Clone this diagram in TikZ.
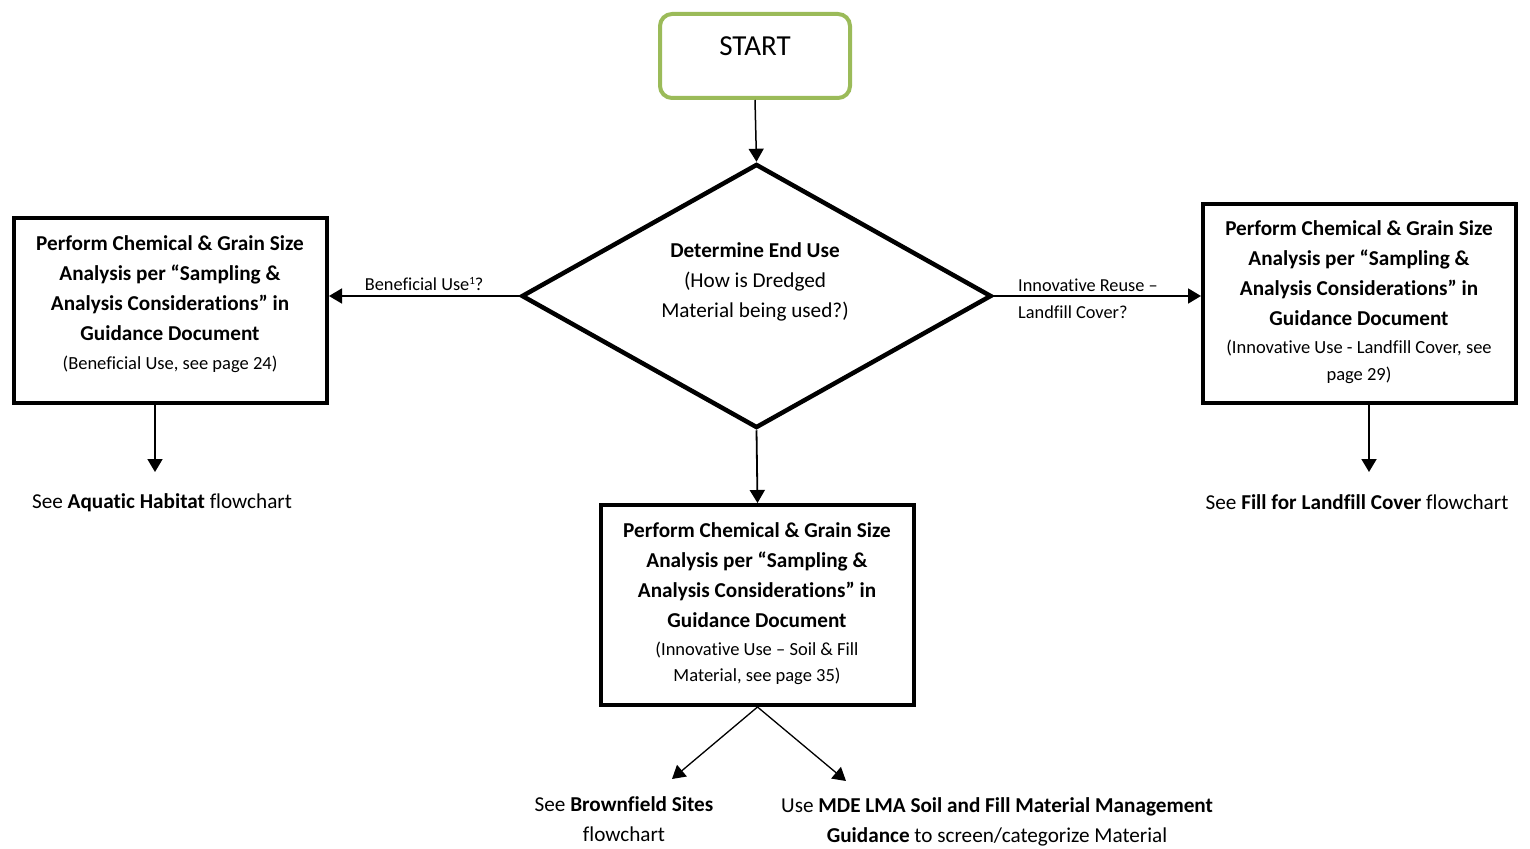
\documentclass[tikz,border=0pt]{standalone}
\usepackage{fontspec}
\setmainfont{Carlito}[Ligatures={TeX,NoCommon}]
\usetikzlibrary{arrows.meta,shapes.geometric}

\definecolor{startgreen}{HTML}{9BBB59}

\begin{document}
\begin{tikzpicture}[x=1pt,y=-1pt,
  box/.style={draw, line width=4pt, minimum width=313pt, inner sep=0pt},
  boxtext/.style={align=center, inner sep=0pt, font=\fontsize{21.2}{30}\selectfont},
  note/.style={align=center, inner sep=0pt, font=\fontsize{21.2}{30}\selectfont},
  lbl/.style={inner sep=0pt, font=\fontsize{18.3}{27}\selectfont},
  arr/.style={-{Triangle[length=13pt,width=15pt]}, line width=1.8pt}]
  \useasboundingbox (0,0) rectangle (1530,848);

  % Inicio
  \node[draw=startgreen, line width=4pt, rounded corners=12pt,
        minimum width=190pt, minimum height=84pt,
        text height=19pt, text depth=19pt,
        font=\fontsize{29}{34}\selectfont] (start) at (755,56) {START};

  % Decision
  \node[draw, diamond, line width=4.5pt, inner sep=0pt,
        minimum width=470pt, minimum height=264pt] (enduse) at (756.5,296) {};
  \node[boxtext] (enduset) at (755,281.5)
    {\textbf{Determine End Use}\\(How is Dredged\\Material being used?)};

  % Cajas
  \node[box, minimum height=185pt] (benef) at (170.5,310.5) {};
  \node[boxtext] (beneft) at (170,304)
    {\textbf{Perform Chemical \& Grain Size}\\
     \textbf{Analysis per “Sampling \&}\\
     \textbf{Analysis Considerations” in}\\
     \textbf{Guidance Document}\\[-1pt]
     {\fontsize{18.5}{26}\selectfont (Beneficial Use, see page 24)}};

  \node[box, minimum height=199pt] (landf) at (1359.5,303.5) {};
  \node[boxtext] (landft) at (1359,302.5)
    {\textbf{Perform Chemical \& Grain Size}\\
     \textbf{Analysis per “Sampling \&}\\
     \textbf{Analysis Considerations” in}\\
     \textbf{Guidance Document}\\[-2pt]
     {\fontsize{18.5}{26}\selectfont (Innovative Use - Landfill Cover, see}\\[-3pt]
     {\fontsize{18.5}{26}\selectfont page 29)}};

  \node[box, minimum height=200pt] (soil) at (757.5,605) {};
  \node[boxtext] (soilt) at (757,604)
    {\textbf{Perform Chemical \& Grain Size}\\
     \textbf{Analysis per “Sampling \&}\\
     \textbf{Analysis Considerations” in}\\
     \textbf{Guidance Document}\\[-2pt]
     {\fontsize{18.5}{26}\selectfont (Innovative Use -- Soil \& Fill}\\[-4pt]
     {\fontsize{18.5}{26}\selectfont Material, see page 35)}};

  % Notas
  \node[note] (aquatic) at (162,503) {See \textbf{Aquatic Habitat} flowchart};
  \node[note] (fillcov) at (1357,502) {See \textbf{Fill for Landfill Cover} flowchart};
  \node[note] (brownf) at (624,819) {See \textbf{Brownfield Sites}\\flowchart};
  \node[note] (mdelma) at (997,822)
    {Use \textbf{MDE LMA Soil and Fill Material Management}\\
     \textbf{Guidance} to screen/categorize Material};

  % Puntas
  \coordinate (aqtip) at (155,472);
  \coordinate (fctip) at (1369,472);
  \coordinate (bftip) at (672,779);
  \coordinate (mdtip) at (846,781);

  % Flechas
  \draw[arr, line width=1.5pt] (start.south) -- (enduse.north);
  \draw[arr] (enduse.west) -- (enduse.west -| benef.east)
    node[lbl, midway, above=4pt] (benefl)
    {Beneficial Use{\fontsize{11}{11}\selectfont\raisebox{6pt}{1}}?};
  \draw[arr] (enduse.east) -- (enduse.east -| landf.west);
  \node[lbl, align=left, anchor=west] (landfl) at (1018,299)
    {Innovative Reuse --\\Landfill Cover?};
  \draw[arr] (enduse.south) -- (soil.north);
  \draw[arr] (benef.south -| aqtip) -- (aqtip);
  \draw[arr] (landf.south -| fctip) -- (fctip);
  \draw[arr, line width=1.3pt] (soil.south) -- (bftip);
  \draw[arr, line width=1.3pt] (soil.south) -- (mdtip);
\end{tikzpicture}
\end{document}
